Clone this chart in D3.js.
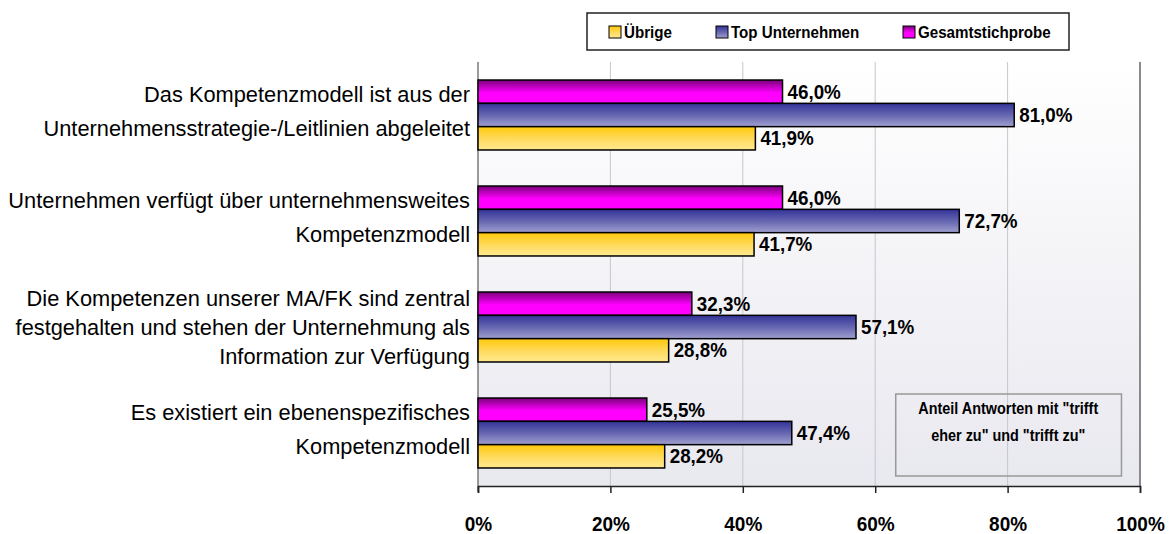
<!DOCTYPE html>
<html>
<head>
<meta charset="utf-8">
<script src="https://cdn.jsdelivr.net/npm/d3@7"></script>
<style>
  body { margin: 0; background: #fff; }
  svg text { fill: #000; font-family: "Liberation Sans", Arial, sans-serif; }
  .bold { font-weight: bold; }
  .cat { font-size: 21.8px; }
</style>
</head>
<body>
<div id="chart"></div>
<script>
// --- data ---
const categories = [
  ["Das Kompetenzmodell ist aus der", "Unternehmensstrategie-/Leitlinien abgeleitet"],
  ["Unternehmen verfügt über unternehmensweites", "Kompetenzmodell"],
  ["Die Kompetenzen unserer MA/FK sind zentral", "festgehalten und stehen der Unternehmung als", "Information zur Verfügung"],
  ["Es existiert ein ebenenspezifisches", "Kompetenzmodell"]
];
const seriesNames = ["Gesamtstichprobe", "Top Unternehmen", "Übrige"];
const gesamtValues = [46.0, 46.0, 32.3, 25.5];
const topValues = [81.0, 72.7, 57.1, 47.4];
const uebrigeValues = [41.9, 41.7, 28.8, 28.2];
const seriesValues = [gesamtValues, topValues, uebrigeValues];
const xTicks = [0, 20, 40, 60, 80, 100];
const legendOrder = ["Übrige", "Top Unternehmen", "Gesamtstichprobe"];
const noteLines = ['Anteil Antworten mit "trifft', 'eher zu" und "trifft zu"'];

// plot sizes
const width = 1175, height = 534;
const margin = { top: 62, left: 478, right: 35, bottom: 48 };
const plotW = width - margin.left - margin.right;
const plotH = height - margin.top - margin.bottom;

const gradients = {
  "Gesamtstichprobe": ["#7a007a", "#ff00ff", "#ff00ff"],
  "Top Unternehmen": ["#333399", "#6b6bb3", "#a0a0d0"],
  "Übrige": ["#ffc90a", "#ffdb60", "#ffe990"]
};
const gradId = { "Gesamtstichprobe": "g-ges", "Top Unternehmen": "g-top", "Übrige": "g-ueb" };

// condensed-looking text: scale horizontally around its anchor point
function narrowText(sel, px, py, size, sx) {
  return sel
    .attr("x", 0).attr("y", 0)
    .attr("transform", `translate(${px}, ${py}) scale(${sx}, 1)`)
    .style("font-size", size + "px");
}

const svg = d3.select("#chart").append("svg")
  .attr("width", width)
  .attr("height", height);

const defs = svg.append("defs");
Object.keys(gradients).forEach(k => {
  const g = defs.append("linearGradient")
    .attr("id", gradId[k])
    .attr("x1", 0).attr("y1", 0).attr("x2", 0).attr("y2", 1);
  g.append("stop").attr("offset", "0%").attr("stop-color", gradients[k][0]);
  g.append("stop").attr("offset", "55%").attr("stop-color", gradients[k][1]);
  g.append("stop").attr("offset", "100%").attr("stop-color", gradients[k][2]);
});
const bg = defs.append("linearGradient")
  .attr("id", "bg").attr("x1", 0).attr("y1", 0).attr("x2", 0).attr("y2", 1);
bg.append("stop").attr("offset", "0%").attr("stop-color", "#ffffff");
bg.append("stop").attr("offset", "100%").attr("stop-color", "#e8e8ef");

// --- scales ---
const x = d3.scaleLinear().domain([0, 100]).range([0, plotW]);
const y = d3.scaleBand().domain(d3.range(categories.length)).range([0, plotH]).paddingInner(0.34).paddingOuter(0.17);
const ySub = d3.scaleBand().domain(seriesNames).range([0, y.bandwidth()]);

const chart = svg.append("g")
  .attr("transform", `translate(${margin.left}, ${margin.top})`);

// plot background
chart.append("rect")
  .attr("width", plotW).attr("height", plotH)
  .attr("fill", "url(#bg)");

// gridlines
chart.append("g").selectAll("line")
  .data(xTicks.slice(1, -1))
  .enter().append("line")
  .attr("x1", d => x(d)).attr("x2", d => x(d))
  .attr("y1", 0).attr("y2", plotH)
  .attr("stroke", "#c6c6cc").attr("stroke-width", 1);

// right border of plot
chart.append("line")
  .attr("x1", plotW).attr("x2", plotW).attr("y1", 0).attr("y2", plotH)
  .attr("stroke", "#8a8a8a").attr("stroke-width", 2);

// left axis line
chart.append("line")
  .attr("x1", 0).attr("x2", 0).attr("y1", 0).attr("y2", plotH + 6)
  .attr("stroke", "#7a7a7a").attr("stroke-width", 1.5);

// note box
const note = chart.append("g");
note.append("rect")
  .attr("x", x(63.1)).attr("y", 332)
  .attr("width", x(97.2) - x(63.1)).attr("height", 82)
  .attr("fill", "none").attr("stroke", "#999").attr("stroke-width", 1.5);
noteLines.forEach((t, i) => {
  note.append("text")
    .attr("class", "bold")
    .attr("text-anchor", "middle")
    .call(narrowText, x(80.1), 352 + i * 27, 16, 0.9)
    .text(t);
});

// bars
const groups = chart.append("g").selectAll("g")
  .data(categories)
  .enter().append("g")
  .attr("transform", (d, i) => `translate(0, ${y(i)})`);

groups.each(function(d, i) {
  const g = d3.select(this);
  seriesNames.forEach((s, j) => {
    const v = seriesValues[j][i];
    g.append("rect")
      .attr("x", x(0))
      .attr("y", ySub(s))
      .attr("width", x(v) - x(0))
      .attr("height", ySub.bandwidth())
      .attr("fill", `url(#${gradId[s]})`)
      .attr("stroke", "#000").attr("stroke-width", 1.5);
  });
  seriesNames.forEach((s, j) => {
    const v = seriesValues[j][i];
    g.append("text")
      .attr("class", "bold")
      .call(narrowText, x(v) + 5, ySub(s) + ySub.bandwidth() / 2 + 7, 20, 0.94)
      .text(v.toFixed(1).replace(".", ",") + "%");
  });
});

// category labels
groups.each(function(d, i) {
  const g = d3.select(this);
  const lh = d.length === 3 ? 29 : 34;
  const y0 = y.bandwidth() / 2 - (d.length - 1) * lh / 2 + (d.length === 3 ? 8 : 4);
  g.selectAll("text.cat")
    .data(d)
    .enter().append("text")
    .attr("class", "cat")
    .attr("x", -8)
    .attr("y", (t, k) => y0 + k * lh)
    .attr("text-anchor", "end")
    .text(t => t);
});

// x axis
const xAxis = d3.axisBottom(x).tickValues(xTicks).tickSize(7).tickFormat(d => d + "%");
const ax = chart.append("g")
  .attr("transform", `translate(0, ${plotH})`)
  .call(xAxis);
ax.select(".domain").attr("stroke", "#222").attr("stroke-width", 1.5);
ax.selectAll(".tick line").attr("stroke", "#222").attr("stroke-width", 1.5);
ax.selectAll(".tick text")
  .attr("class", "bold")
  .attr("dy", null)
  .attr("fill", "#000")
  .call(narrowText, 0, 45, 20, 0.95);

// legend
const legend = svg.append("g").attr("transform", "translate(587, 13)");
legend.append("rect")
  .attr("width", 482).attr("height", 37)
  .attr("fill", "#fff").attr("stroke", "#222").attr("stroke-width", 1.5);
const legX = [22, 129, 316];
legendOrder.forEach((s, i) => {
  legend.append("rect")
    .attr("x", legX[i]).attr("y", 13)
    .attr("width", 12).attr("height", 12)
    .attr("fill", `url(#${gradId[s]})`)
    .attr("stroke", "#000").attr("stroke-width", 1);
  legend.append("text")
    .attr("class", "bold")
    .call(narrowText, legX[i] + 15, 25, 17, 0.89)
    .text(s);
});
</script>
</body>
</html>
